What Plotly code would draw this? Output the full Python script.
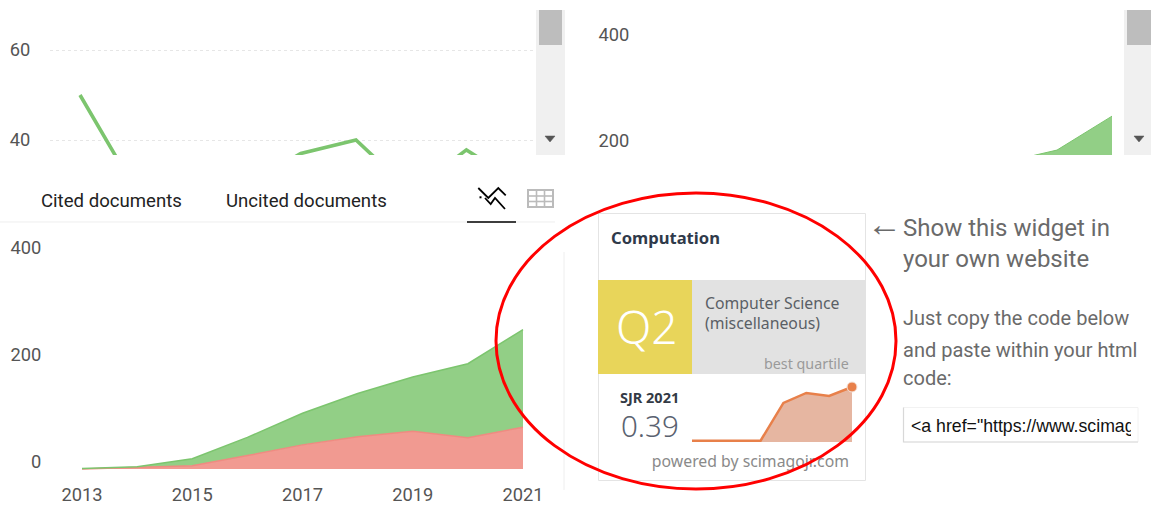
import plotly.graph_objects as go

W, H = 1151, 510

# ---- data -------------------------------------------------------------
years = [2013, 2014, 2015, 2016, 2017, 2018, 2019, 2020, 2021]
line_values = [50, 29, 26, 30, 37, 40, 28.5, 37.8, 30]
total_values = [-14, -10, 4, 44, 89, 126, 157, 181, 245]
uncited_values = [0, 3, 6, 25, 45, 60, 70.5, 58.5, 78]
cited_values = [1, 1, 13, 34, 59, 81, 101, 138, 182]
sjr_years = [2014, 2015, 2016, 2017, 2018, 2019, 2020, 2021]
sjr_values = [0.10, 0.10, 0.10, 0.10, 0.304, 0.358, 0.342, 0.39]
top_right_ticks = [198, 398]
top_right_ticktext = ["200", "400"]
bottom_ticks = [13, 213, 413]
bottom_ticktext = ["0", "200", "400"]
x_ticks = [2013, 2015, 2017, 2019, 2021]

GREEN_LINE = "#7cc56e"
GREEN_FILL = "#92cf86"
RED_LINE = "#ef8b81"
RED_FILL = "#f19a91"
TICK = "#555555"
ROBOTO = "Roboto, sans-serif"
WIDGET = "'Noto Sans', 'Open Sans', sans-serif"
ARIAL = "'Liberation Sans', Arial, sans-serif"


def px(x):
    return x / W


def py(y):
    return 1 - y / H


def span(p0, v0, p1, v1, a, b):
    """Axis range for pixel span a..b, given two anchor pixel/value pairs."""
    k = (v1 - v0) / (p1 - p0)
    return [v0 + (a - p0) * k, v0 + (b - p0) * k]


fig = go.Figure()

# top-left line
fig.add_trace(go.Scatter(x=years, y=line_values, mode="lines", xaxis="x", yaxis="y",
                         line=dict(color=GREEN_LINE, width=3.6), name="line", showlegend=False))
# top-right area
fig.add_trace(go.Scatter(x=years, y=total_values, mode="lines", xaxis="x2", yaxis="y2", fill="tozeroy",
                         fillcolor=GREEN_FILL, line=dict(color=GREEN_LINE, width=1), showlegend=False))
# bottom stacked areas
fig.add_trace(go.Scatter(x=years, y=uncited_values, mode="lines", xaxis="x3", yaxis="y3", stackgroup="a",
                         fillcolor=RED_FILL, line=dict(color=RED_LINE, width=1.5), name="Uncited documents",
                         showlegend=False))
fig.add_trace(go.Scatter(x=years, y=cited_values, mode="lines", xaxis="x3", yaxis="y3", stackgroup="a",
                         fillcolor=GREEN_FILL, line=dict(color=GREEN_LINE, width=1.5), name="Cited documents",
                         showlegend=False))
# SJR widget sparkline
fig.add_trace(go.Scatter(x=sjr_years, y=sjr_values, mode="lines", xaxis="x4", yaxis="y4", fill="tozeroy",
                         fillcolor="#e6b6a1", line=dict(color="#e8804a", width=2.5), showlegend=False))
fig.add_trace(go.Scatter(x=sjr_years[-1:], y=sjr_values[-1:], mode="markers", xaxis="x4", yaxis="y4",
                         marker=dict(color="#e8804a", size=10, line=dict(color="#f6e3da", width=1)),
                         showlegend=False))
# clipped code text inside the input box
fig.add_trace(go.Scatter(x=[0], y=[0.5], mode="text", xaxis="x5", yaxis="y5",
                         text=["&lt;a href=\"https://www.scimag"], textposition="middle right",
                         textfont=dict(family=ARIAL, size=17.7, color="#111111"), cliponaxis=True,
                         showlegend=False))
# text that the red ring passes over
fig.add_trace(go.Scatter(x=[1], y=[0.5], mode="text", xaxis="x6", yaxis="y6",
                         text=["powered by scimagojr.com"], textposition="middle left",
                         textfont=dict(family=WIDGET, size=15.8, color="#8a8a8a"), cliponaxis=False,
                         showlegend=False))

tickfont = dict(family=ROBOTO, size=18.3, color=TICK)
hidden = dict(visible=False, fixedrange=True, automargin=False)
shown = dict(automargin=False, fixedrange=True, showline=False, zeroline=False, tickfont=tickfont,
             ticks="outside", tickcolor="rgba(0,0,0,0)")

layout = dict(
    width=W, height=H, autosize=False,
    margin=dict(l=0, r=0, t=0, b=0),
    paper_bgcolor="white", plot_bgcolor="rgba(0,0,0,0)",
    font=dict(family=ROBOTO, color=TICK),
    showlegend=False,
    # top-left
    xaxis=dict(hidden, domain=[px(50), px(536)], anchor="y",
               range=span(80, 2013, 356, 2018, 50, 536)),
    yaxis=dict(shown, domain=[py(155), py(0)], anchor="x", range=span(50, 60, 140, 40, 155, 0),
               tickvals=[40, 60], showgrid=True,
               gridcolor="#e6e6e6", griddash="dot", gridwidth=1, ticklen=15),
    # top-right
    xaxis2=dict(hidden, domain=[px(650), px(1124)], anchor="y2",
                range=span(1057, 2020, 1112, 2021, 650, 1124)),
    yaxis2=dict(shown, domain=[py(155), py(0)], anchor="x2", range=span(34, 400, 140, 200, 155, 0),
                tickvals=top_right_ticks, ticktext=top_right_ticktext, showgrid=False, ticklen=16),
    # bottom
    xaxis3=dict(shown, domain=[px(60), px(545)], anchor="y3", range=span(82, 2013, 523, 2021, 60, 545),
                tickvals=x_ticks, showgrid=False, ticklen=8, tickformat="d"),
    yaxis3=dict(shown, domain=[py(470), py(232)], anchor="x3", range=span(469, 0, 361.8, 200, 470, 232),
                tickvals=bottom_ticks, ticktext=bottom_ticktext, showgrid=False, ticklen=14),
    # sparkline
    xaxis4=dict(hidden, domain=[px(692), px(860)], anchor="y4",
                range=span(692, 2014, 852, 2021, 692, 860)),
    yaxis4=dict(hidden, domain=[py(442), py(378)], anchor="x4",
                range=span(387, 0.39, 440.7, 0.10, 442, 378)),
    # code text clip box
    xaxis5=dict(hidden, domain=[px(911), px(1131)], anchor="y5", range=[0, 1]),
    yaxis5=dict(hidden, domain=[py(444), py(412)], anchor="x5", range=[0, 1]),
    # text layer below the red ring
    xaxis6=dict(hidden, domain=[px(640), px(849)], anchor="y6", range=[0, 1]),
    yaxis6=dict(hidden, domain=[py(473), py(453)], anchor="x6", range=[0, 1]),
)


def rect(x0, y0, x1, y1, fill=None, line=None, lw=1, layer="below"):
    return dict(type="rect", xref="paper", yref="paper", x0=px(x0), x1=px(x1), y0=py(y0), y1=py(y1),
                fillcolor=fill or "rgba(0,0,0,0)", line=dict(color=line or "rgba(0,0,0,0)", width=lw if line else 0),
                layer=layer)


def seg(pts, color, lw=1.0, layer="above", closed=False, fill=None):
    path = "M " + " L ".join(f"{px(x):.5f},{py(y):.5f}" for x, y in pts) + (" Z" if closed else "")
    return dict(type="path", xref="paper", yref="paper", path=path, layer=layer,
                line=dict(color=color, width=lw), fillcolor=fill or "rgba(0,0,0,0)")


shapes = [
    # scrollbars
    rect(536, 10, 565, 155, fill="#f0f0f0", layer="above"),
    rect(539, 10, 562, 45, fill="#bdbdbd", layer="above"),
    seg([(545, 136), (555, 136), (550, 142)], "#555555", 0.5, closed=True, fill="#555555"),
    rect(1124, 10, 1151, 155, fill="#f0f0f0", layer="above"),
    rect(1127, 10, 1151, 45, fill="#bdbdbd", layer="above"),
    seg([(1134, 136), (1144, 136), (1139, 142)], "#555555", 0.5, closed=True, fill="#555555"),
    # tab divider
    seg([(0, 222), (555, 222)], "#eeeeee", 1),
    seg([(467, 222), (516, 222)], "#000000", 1.4),
    # line icon
    seg([(478.3, 188), (488.3, 198), (498.3, 188), (505.7, 195.3)], "#000000", 1.8),
    seg([(485, 198), (490.7, 204), (495, 198), (505, 209)], "#000000", 1.8),
    seg([(479.5, 197.3), (481.5, 197.3)], "#000000", 2),
    # table icon
    rect(528, 190, 553, 207, line="#bbbbbb", lw=2, layer="above"),
    seg([(528, 196), (553, 196)], "#bbbbbb", 1.6),
    seg([(528, 201.5), (553, 201.5)], "#bbbbbb", 1.6),
    seg([(536.5, 190), (536.5, 207)], "#bbbbbb", 1.6),
    seg([(544.5, 190), (544.5, 207)], "#bbbbbb", 1.6),
    # vertical separator
    seg([(564, 252), (564, 490)], "#eeeeee", 1),
    # widget
    rect(598.5, 213.5, 865.5, 480.5, line="#e4e4e4", lw=1),
    rect(598, 280, 692, 374, fill="#e8d55a"),
    rect(692, 280, 866, 374, fill="#e2e2e2"),
    # code input
    rect(903.5, 407.5, 1138, 442, line="#f2f2f2", lw=1),
    seg([(903.5, 407.5), (903.5, 442), (1138, 442)], "#d8d8d8", 1.2, layer="below"),
    # red ellipse
    dict(type="circle", xref="paper", yref="paper", x0=px(496), x1=px(896), y0=py(489), y1=py(193),
         line=dict(color="#ff0000", width=3), fillcolor="rgba(0,0,0,0)", layer="above"),
]


def label(text, x, y, size, color, family=ROBOTO, anchor="left", bold=False, weight=None):
    font = dict(family=family, size=size, color=color)
    if weight:
        font["weight"] = weight
    return dict(text=f"<b>{text}</b>" if bold else text, x=px(x), y=py(y), xref="paper", yref="paper",
                xanchor=anchor, yanchor="middle", showarrow=False, font=font, align=anchor,
                xshift=0, yshift=0, borderpad=0, borderwidth=0)


annotations = [
    label("Cited documents", 41, 201, 18.6, "#222222"),
    label("Uncited documents", 226, 201, 18.6, "#222222"),
    label("Computation", 611, 237, 16.6, "#2f3a4a", family=WIDGET, bold=True),
    label("Q2", 647, 326, 46, "#ffffff", family=WIDGET, anchor="center", weight=300),
    label("Computer Science", 705, 303, 15.8, "#5a5f66", family=WIDGET),
    label("(miscellaneous)", 705, 323, 15.8, "#5a5f66", family=WIDGET),
    label("best quartile", 849, 363, 14.3, "#9a9a9a", family=WIDGET, anchor="right"),
    label("SJR 2021", 649, 397, 14.5, "#333a45", family=WIDGET, anchor="center", bold=True),
    label("0.39", 650, 425, 29.5, "#5a6270", family=WIDGET, anchor="center", weight=300),
    label("←", 867, 224, 35, "#6a6a6a"),
    label("Show this widget in", 903, 228, 24, "#6a6a6a"),
    label("your own website", 903, 259, 24, "#6a6a6a"),
    label("Just copy the code below", 903, 318, 20, "#6a6a6a"),
    label("and paste within your html", 903, 350, 20, "#6a6a6a"),
    label("code:", 903, 378, 20, "#6a6a6a"),
]

fig.update_layout(**layout, shapes=shapes, annotations=annotations)
fig.write_html("out.html", config=dict(displayModeBar=False),
               post_script="document.body.style.margin='0';document.body.style.overflow='hidden';")
